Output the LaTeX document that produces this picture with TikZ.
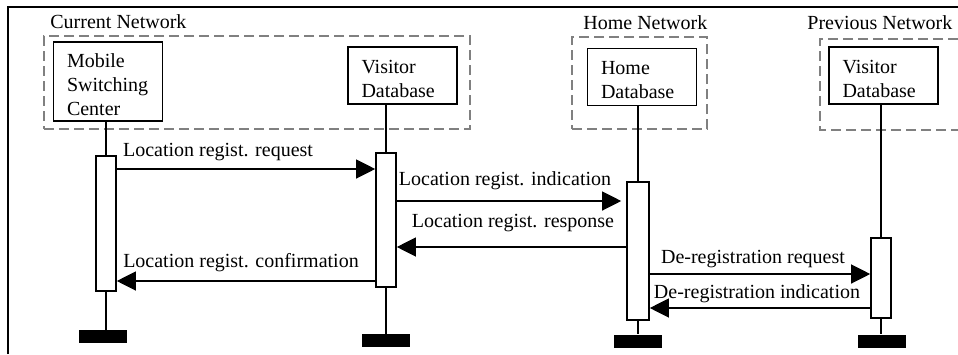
\documentclass[tikz,border=0pt]{standalone}
\usepackage{fontspec}
\setmainfont{Liberation Serif}
\usetikzlibrary{arrows.meta}

\begin{document}
\begin{tikzpicture}[%
  x=0.5pt, y=-0.5pt,
  font=\fontsize{10}{12}\selectfont,
  entity/.style={draw, line width=0.85pt, align=left, text width=41pt, inner xsep=6.75pt, inner ysep=2pt, text height=9.8pt, minimum height=28.5pt},
  netbox/.style={draw=gray, line width=0.75pt, dash pattern=on 5pt off 2.5pt},
  act/.style={draw, line width=0.8pt, fill=white, minimum width=10pt, inner sep=0pt},
  endbar/.style={fill=black, minimum width=24pt, minimum height=6.5pt, inner sep=0pt},
  life/.style={line width=0.65pt},
  msg/.style={line width=0.6pt, -{Triangle[length=9.5pt, width=9.5pt]}},
  mlabel/.style={anchor=base, inner sep=0pt},
  netlabel/.style={anchor=base west, inner sep=0pt}]
\useasboundingbox (0,0) rectangle (958,354);
\draw[line width=1.2pt] (8,354) -- (8,7) -- (958,7);

\node[netbox, minimum width=213pt, minimum height=46.5pt] (curnet) at (257,82.5) {};
\node[netbox, minimum width=67.5pt, minimum height=46pt] (homenet) at (639.5,83) {};
\draw[netbox] (958,39) -- (820,39) -- (820,130) -- (958,130);
\node[netlabel] (curlbl) at (50,28) {Current Network};
\node[netlabel] (homelbl) at (583,29) {Home Network};
\node[netlabel] (prevlbl) at (807,29) {Previous Network};

\node[entity, minimum height=39.5pt] (msc) at (108,81.5) {Mobile\\Switching\\Center};
\node[entity] (vdb) at (402.5,75.5) {Visitor\\Database};
\node[entity] (hdb) at (642,77) {Home\\Database};
\node[entity] (pvdb) at (883.5,75.5) {Visitor\\Database};

\node[act, minimum height=67.5pt] (mscact) at (106,223.5) {};
\node[act, minimum height=67pt] (vdbact) at (386,220) {};
\node[act, minimum height=69pt, minimum width=11pt] (hdbact) at (638,251) {};
\node[act, minimum height=40pt] (pvdbact) at (881,278) {};

\node[endbar] (mscend) at (103,336.5) {};
\node[endbar] (vdbend) at (386,340.5) {};
\node[endbar] (hdbend) at (638,341) {};
\node[endbar] (pvdbend) at (882,341) {};

\draw[life] (msc.south -| mscact.north) -- (mscact.north);
\draw[life] (mscact.south) -- (mscact.south |- mscend.north);
\draw[life] (vdb.south -| vdbact.north) -- (vdbact.north);
\draw[life] (vdbact.south) -- (vdbact.south |- vdbend.north);
\draw[life] (hdb.south -| hdbact.north) -- (hdbact.north);
\draw[life] (hdbact.south) -- (hdbact.south |- hdbend.north);
\draw[life] (pvdb.south -| pvdbact.north) -- (pvdbact.north);
\draw[life] (pvdbact.south) -- (pvdbact.south |- pvdbend.north);

\coordinate (m1) at (0,169);
\coordinate (m2) at (0,201);
\coordinate (m3) at (0,247);
\coordinate (m4) at (0,281);
\coordinate (m5) at (0,274);
\coordinate (m6) at (0,308);

\draw[msg] (mscact.east |- m1) -- node[mlabel, xshift=-14pt, yshift=6.5pt] {Location regist. request} (vdbact.west |- m1);
\draw[msg, shorten >=2.5pt] (vdbact.east |- m2) -- node[mlabel, xshift=-3.25pt, yshift=8pt] {Location regist. indication} (hdbact.west |- m2);
\draw[msg] (hdbact.west |- m3) -- node[mlabel, xshift=0.75pt, yshift=10pt] {Location regist. response} (vdbact.east |- m3);
\draw[msg] (vdbact.west |- m4) -- node[mlabel, xshift=-2.5pt, yshift=7pt] {Location regist. confirmation} (mscact.east |- m4);
\draw[msg] (hdbact.east |- m5) -- node[mlabel, xshift=-3.5pt, yshift=5.5pt] {De-registration request} (pvdbact.west |- m5);
\draw[msg] (pvdbact.west |- m6) -- node[mlabel, xshift=-1.5pt, yshift=5pt] {De-registration indication} (hdbact.east |- m6);
\end{tikzpicture}
\end{document}
